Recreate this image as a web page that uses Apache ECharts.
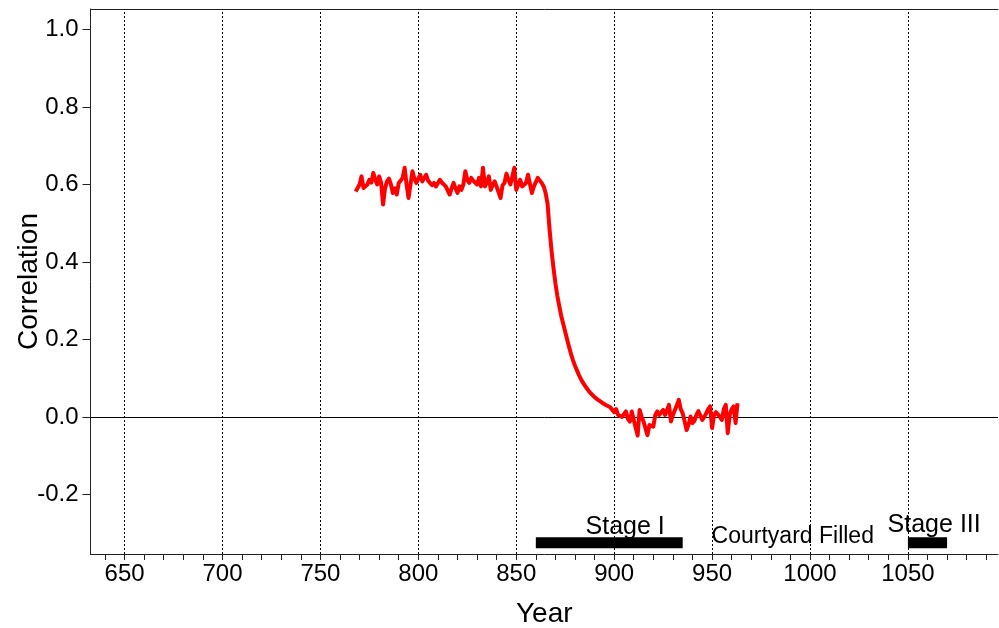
<!DOCTYPE html>
<html><head><meta charset="utf-8">
<script src="https://cdn.jsdelivr.net/npm/echarts@6/dist/echarts.min.js"></script>
<style>html,body{margin:0;padding:0;background:#fff}#c{width:999px;height:628px}</style>
</head><body><div id="c"></div>
<script>
const startYear = 768;
const correlation = [
0.582,0.585,0.600,0.621,0.591,0.590,0.600,0.612,0.605,0.630,
0.612,0.600,0.621,0.604,0.548,0.590,0.608,0.615,0.600,0.578,
0.590,0.574,0.604,0.610,0.617,0.643,0.600,0.565,0.600,0.634,
0.615,0.604,0.615,0.625,0.608,0.612,0.625,0.610,0.604,0.598,
0.604,0.595,0.600,0.612,0.605,0.604,0.595,0.591,0.574,0.590,
0.604,0.590,0.578,0.595,0.586,0.600,0.634,0.612,0.604,0.617,
0.610,0.608,0.600,0.617,0.595,0.643,0.595,0.605,0.621,0.586,
0.600,0.608,0.612,0.580,0.565,0.598,0.604,0.628,0.612,0.600,
0.620,0.643,0.586,0.600,0.612,0.595,0.600,0.604,0.625,0.630,
0.578,0.595,0.600,0.617,0.620,0.604,0.595,
0.578,0.550,0.485,0.430,0.385,0.345,0.312,0.285,0.260,0.240,
0.220,0.200,0.180,0.162,0.146,0.132,0.120,0.108,0.098,0.089,
0.081,0.074,0.067,0.061,0.056,0.051,0.047,0.043,0.040,0.036,
0.033,0.030,0.028,0.025,
0.022,0.012,0.020,0.005,0.010,0.000,0.002,0.014,-0.005,-0.012,
0.014,-0.008,-0.010,-0.048,0.018,0.000,-0.012,-0.030,-0.047,-0.021,
-0.025,-0.025,0.005,0.014,0.005,0.008,0.018,0.005,0.000,0.031,
-0.012,0.005,0.009,0.030,0.044,0.020,0.009,-0.012,-0.034,-0.020,
0.001,-0.016,-0.010,0.005,0.015,0.018,-0.008,0.000,0.009,0.020,
0.027,-0.029,0.005,0.012,0.014,0.000,-0.008,0.020,0.031,-0.042,
0.005,0.020,0.027,-0.016,0.035
];
const xLabelValues = [650,700,750,800,850,900,950,1000,1050];
const xTickValues = [640,650,660,670,680,690,700,710,720,730,740,750,760,770,780,790,800,810,820,830,840,850,860,870,880,890,900,910,920,930,940,950,960,970,980,990,1000,1010,1020,1030,1040,1050,1060,1070,1080,1090];
const yTickValues = [-0.2,0,0.2,0.4,0.6,0.8,1.0];
const stageNames = ['Stage I','Stage III'];
const stageStart = [860,1050];
const stageEnd = [935,1070];
const stageLevel = -0.325;
const noteTexts = ['Stage I','Courtyard Filled','Stage III'];
const noteX = [905.6,991.2,1063.4];
const noteY = [-0.284,-0.31,-0.279];

const FONT = 'Liberation Sans, Arial, sans-serif';
const chart = echarts.init(document.getElementById('c'), null, {renderer:'canvas'});
const lineData = correlation.map((v,i)=>[startYear+i, v]);

const series = [];
series.push({
  type:'line', data:[], z:1, silent:true,
  markLine:{silent:true, symbol:'none', label:{show:false}, animation:false,
    lineStyle:{color:'#000', type:[2,2], width:1},
    data: xLabelValues.map(v=>({xAxis:v}))}
});
series.push({
  type:'line', data:[], z:2, silent:true,
  markLine:{silent:true, symbol:'none', label:{show:false}, animation:false,
    lineStyle:{color:'#000', type:'solid', width:1},
    data:[{yAxis:0}]}
});
series.push({
  type:'line', data:lineData, z:5, showSymbol:false, symbol:'none',
  lineStyle:{color:'#ff0000', width:4, join:'round'}, itemStyle:{color:'#ff0000'}
});
stageNames.forEach((n,i)=>{
  series.push({
    type:'line', name:n, data:[[stageStart[i],stageLevel],[stageEnd[i],stageLevel]],
    showSymbol:false, symbol:'none', z:4,
    lineStyle:{color:'#000', width:11, cap:'butt'}
  });
});
series.push({
  type:'scatter', symbolSize:0, z:6, silent:true,
  itemStyle:{opacity:1, color:'#000'},
  data: noteTexts.map((t,i)=>({name:t, value:[noteX[i],noteY[i]],
    label:{fontSize: t==='Courtyard Filled'?23:25, color:'#000', textBorderWidth:0, opacity:1}})),
  label:{show:true, position:'inside', formatter:'{b}', color:'#000', textBorderWidth:0, opacity:1, fontFamily:FONT},
  emphasis:{disabled:true}
});

chart.setOption({
  animation:false,
  grid:{left:90.5, top:9, width:907.5, height:545, containLabel:false, outerBoundsMode:'none'},
  xAxis:[{
    type:'value', min:632.6, max:1096, position:'bottom',
    axisLine:{show:true, onZero:false, lineStyle:{color:'#222', width:1}},
    axisTick:{show:true, customValues:xTickValues, length:6, lineStyle:{color:'#222'}},
    axisLabel:{customValues:xLabelValues, formatter:v=>String(v), fontSize:24, color:'#000', margin:8, fontFamily:FONT},
    splitLine:{show:false},
    name:'Year', nameLocation:'middle', nameGap:46, nameMoveOverlap:false,
    nameTextStyle:{fontSize:28, color:'#000', fontFamily:FONT}
  },{
    type:'value', min:632.6, max:1096, position:'top',
    axisLine:{show:true, onZero:false, lineStyle:{color:'#222', width:1}},
    axisTick:{show:false}, axisLabel:{show:false}, splitLine:{show:false}
  }],
  yAxis:[{
    type:'value', min:-0.354, max:1.053,
    axisLine:{show:true, onZero:false, lineStyle:{color:'#222', width:1}},
    axisTick:{show:true, customValues:yTickValues, length:8, lineStyle:{color:'#222'}},
    axisLabel:{customValues:yTickValues, formatter:v=>Number(v).toFixed(1), fontSize:24, color:'#000', margin:12, fontFamily:FONT},
    splitLine:{show:false},
    name:'Correlation', nameLocation:'middle', nameGap:47, nameMoveOverlap:false,
    nameTextStyle:{fontSize:28, color:'#000', fontFamily:FONT}
  }],
  series:series
});
</script>
</body></html>
